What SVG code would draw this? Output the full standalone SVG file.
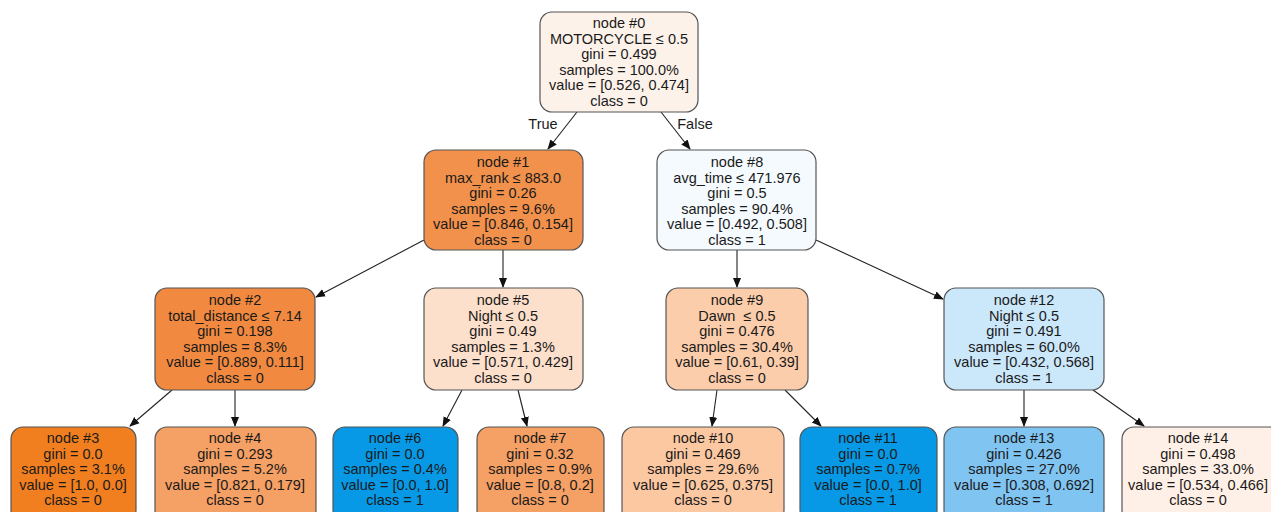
<svg xmlns="http://www.w3.org/2000/svg" width="1271" height="512" viewBox="0 0 1271 512">
<defs>
<marker id="arr" viewBox="0 0 10 10" refX="9" refY="5" markerWidth="10" markerHeight="10" markerUnits="userSpaceOnUse" orient="auto">
<path d="M0,1 L10,5 L0,9 z" fill="#111"/>
</marker>
<style>
.n{stroke:#555;stroke-width:1.2}
text{font-family:"Liberation Sans",Arial,sans-serif;font-size:14.5px;fill:#1a1a1a;text-anchor:middle;white-space:pre}
.e{stroke:#222;stroke-width:1.1;fill:none;marker-end:url(#arr)}
</style>
</defs>
<rect x="0" y="0" width="1271" height="512" fill="#ffffff" stroke="none"/>
<g id="edges">
<line class="e" x1="577" y1="112" x2="548" y2="149"/>
<line class="e" x1="661" y1="112" x2="690" y2="149"/>
<line class="e" x1="424" y1="240" x2="316" y2="297"/>
<line class="e" x1="503" y1="250" x2="503" y2="287"/>
<line class="e" x1="737" y1="250" x2="737" y2="287"/>
<line class="e" x1="816" y1="240" x2="943" y2="299"/>
<line class="e" x1="172" y1="390" x2="130" y2="426"/>
<line class="e" x1="235" y1="390" x2="235" y2="426"/>
<line class="e" x1="462" y1="390" x2="443" y2="426"/>
<line class="e" x1="518" y1="390" x2="527" y2="426"/>
<line class="e" x1="717" y1="390" x2="712" y2="426"/>
<line class="e" x1="785" y1="390" x2="821" y2="426"/>
<line class="e" x1="1024" y1="390" x2="1024" y2="426"/>
<line class="e" x1="1093" y1="390" x2="1144" y2="426"/>
<text x="543" y="129">True</text>
<text x="695" y="129">False</text>
</g>
<g id="node0">
<rect class="n" x="540" y="12" width="158" height="100" rx="12" fill="#fdf2ea"/>
<text x="619" y="28">node #0</text>
<text x="619" y="43.5">MOTORCYCLE ≤ 0.5</text>
<text x="619" y="59">gini = 0.499</text>
<text x="619" y="74.5">samples = 100.0%</text>
<text x="619" y="90">value = [0.526, 0.474]</text>
<text x="619" y="105.5">class = 0</text>
</g>
<g id="node1">
<rect class="n" x="424" y="150" width="159" height="100" rx="12" fill="#f2914c"/>
<text x="503" y="167">node #1</text>
<text x="503" y="182.5">max_rank ≤ 883.0</text>
<text x="503" y="198">gini = 0.26</text>
<text x="503" y="213.5">samples = 9.6%</text>
<text x="503" y="229">value = [0.846, 0.154]</text>
<text x="503" y="244.5">class = 0</text>
</g>
<g id="node8">
<rect class="n" x="657" y="150" width="159" height="100" rx="12" fill="#f5fafe"/>
<text x="737" y="167">node #8</text>
<text x="737" y="182.5">avg_time ≤ 471.976</text>
<text x="737" y="198">gini = 0.5</text>
<text x="737" y="213.5">samples = 90.4%</text>
<text x="737" y="229">value = [0.492, 0.508]</text>
<text x="737" y="244.5">class = 1</text>
</g>
<g id="node2">
<rect class="n" x="155" y="288" width="160" height="102" rx="12" fill="#f18a40"/>
<text x="235" y="305">node #2</text>
<text x="235" y="320.5">total_distance ≤ 7.14</text>
<text x="235" y="336">gini = 0.198</text>
<text x="235" y="351.5">samples = 8.3%</text>
<text x="235" y="367">value = [0.889, 0.111]</text>
<text x="235" y="382.5">class = 0</text>
</g>
<g id="node5">
<rect class="n" x="424" y="288" width="159" height="102" rx="12" fill="#fde0cb"/>
<text x="503" y="305">node #5</text>
<text x="503" y="320.5">Night ≤ 0.5</text>
<text x="503" y="336">gini = 0.49</text>
<text x="503" y="351.5">samples = 1.3%</text>
<text x="503" y="367">value = [0.571, 0.429]</text>
<text x="503" y="382.5">class = 0</text>
</g>
<g id="node9">
<rect class="n" x="666" y="288" width="142" height="102" rx="12" fill="#fccdab"/>
<text x="737" y="305">node #9</text>
<text x="737" y="320.5">Dawn  ≤ 0.5</text>
<text x="737" y="336">gini = 0.476</text>
<text x="737" y="351.5">samples = 30.4%</text>
<text x="737" y="367">value = [0.61, 0.39]</text>
<text x="737" y="382.5">class = 0</text>
</g>
<g id="node12">
<rect class="n" x="944" y="288" width="160" height="102" rx="12" fill="#cbe7fa"/>
<text x="1024" y="305">node #12</text>
<text x="1024" y="320.5">Night ≤ 0.5</text>
<text x="1024" y="336">gini = 0.491</text>
<text x="1024" y="351.5">samples = 60.0%</text>
<text x="1024" y="367">value = [0.432, 0.568]</text>
<text x="1024" y="382.5">class = 1</text>
</g>
<g id="node3">
<rect class="n" x="11" y="427" width="125" height="95" rx="12" fill="#f27f1f"/>
<text x="73" y="443">node #3</text>
<text x="73" y="458.5">gini = 0.0</text>
<text x="73" y="474">samples = 3.1%</text>
<text x="73" y="489.5">value = [1.0, 0.0]</text>
<text x="73" y="505">class = 0</text>
</g>
<g id="node4">
<rect class="n" x="155" y="427" width="161" height="95" rx="12" fill="#f5a064"/>
<text x="235" y="443">node #4</text>
<text x="235" y="458.5">gini = 0.293</text>
<text x="235" y="474">samples = 5.2%</text>
<text x="235" y="489.5">value = [0.821, 0.179]</text>
<text x="235" y="505">class = 0</text>
</g>
<g id="node6">
<rect class="n" x="333" y="427" width="125" height="95" rx="12" fill="#0799e6"/>
<text x="395" y="443">node #6</text>
<text x="395" y="458.5">gini = 0.0</text>
<text x="395" y="474">samples = 0.4%</text>
<text x="395" y="489.5">value = [0.0, 1.0]</text>
<text x="395" y="505">class = 1</text>
</g>
<g id="node7">
<rect class="n" x="477" y="427" width="127" height="95" rx="12" fill="#f5a064"/>
<text x="540" y="443">node #7</text>
<text x="540" y="458.5">gini = 0.32</text>
<text x="540" y="474">samples = 0.9%</text>
<text x="540" y="489.5">value = [0.8, 0.2]</text>
<text x="540" y="505">class = 0</text>
</g>
<g id="node10">
<rect class="n" x="622" y="427" width="162" height="95" rx="12" fill="#fcc8a2"/>
<text x="703" y="443">node #10</text>
<text x="703" y="458.5">gini = 0.469</text>
<text x="703" y="474">samples = 29.6%</text>
<text x="703" y="489.5">value = [0.625, 0.375]</text>
<text x="703" y="505">class = 0</text>
</g>
<g id="node11">
<rect class="n" x="800" y="427" width="137" height="95" rx="12" fill="#0799e6"/>
<text x="868" y="443">node #11</text>
<text x="868" y="458.5">gini = 0.0</text>
<text x="868" y="474">samples = 0.7%</text>
<text x="868" y="489.5">value = [0.0, 1.0]</text>
<text x="868" y="505">class = 1</text>
</g>
<g id="node13">
<rect class="n" x="944" y="427" width="160" height="95" rx="12" fill="#80c4f2"/>
<text x="1024" y="443">node #13</text>
<text x="1024" y="458.5">gini = 0.426</text>
<text x="1024" y="474">samples = 27.0%</text>
<text x="1024" y="489.5">value = [0.308, 0.692]</text>
<text x="1024" y="505">class = 1</text>
</g>
<g id="node14">
<rect class="n" x="1122" y="427" width="160" height="95" rx="12" fill="#fef0e6"/>
<text x="1198" y="443">node #14</text>
<text x="1198" y="458.5">gini = 0.498</text>
<text x="1198" y="474">samples = 33.0%</text>
<text x="1198" y="489.5">value = [0.534, 0.466]</text>
<text x="1198" y="505">class = 0</text>
</g>
</svg>
